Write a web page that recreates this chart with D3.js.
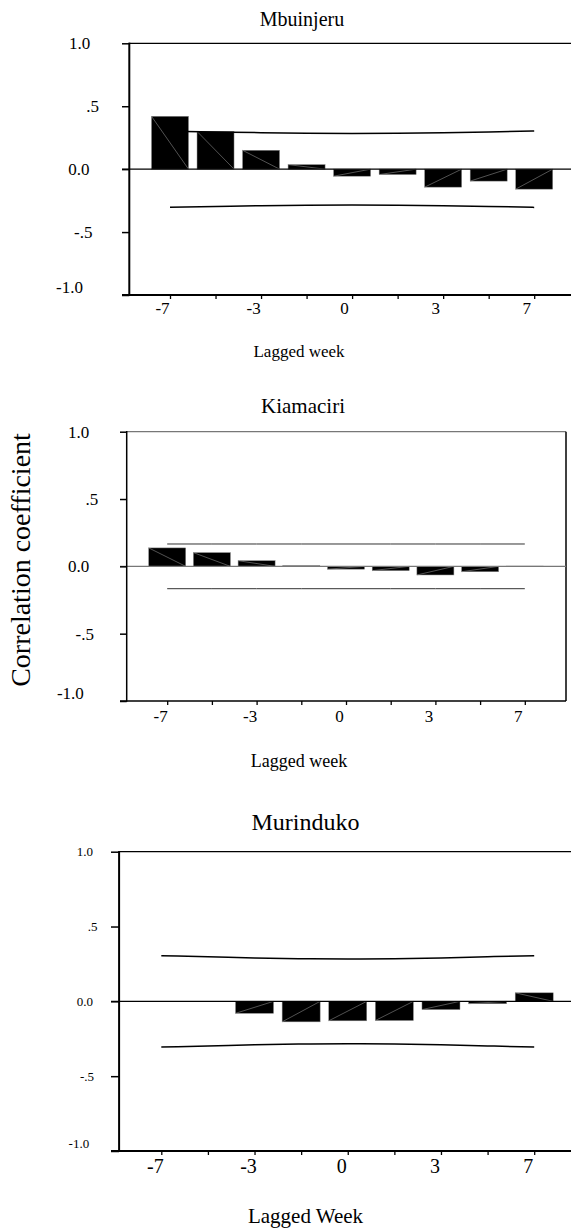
<!DOCTYPE html>
<html>
<head>
<meta charset="utf-8">
<script src="https://cdn.jsdelivr.net/npm/d3@7"></script>
<style>
  body { margin: 0; background: #fff; }
  svg, svg text { font-family: 'Liberation Serif', 'Times New Roman', Times, serif !important; }
</style>
</head>
<body>
<script>
// lag positions (9 bars), only every second one is labelled
var lagIndex   = [0, 1, 2, 3, 4, 5, 6, 7, 8];
var lagLabels  = ["-7", "", "-3", "", "0", "", "3", "", "7"];
var yTicks     = [1, 0.5, 0, -0.5, -1];
var yTickText  = ["1.0", ".5", "0.0", "-.5", "-1.0"];

var titles  = ["Mbuinjeru", "Kiamaciri", "Murinduko"];
var xTitles = ["Lagged week", "Lagged week", "Lagged Week"];
var yTitle  = "Correlation coefficient";

// cross correlation coefficients
var mbuinjeruValues = [0.42, 0.30, 0.15, 0.036, -0.056, -0.043, -0.143, -0.095, -0.159];
var kiamaciriValues = [0.137, 0.102, 0.042, 0.005, -0.021, -0.032, -0.064, -0.04, 0.002];
var murindukoValues = [0, 0, -0.08, -0.137, -0.13, -0.128, -0.055, -0.016, 0.057];

// confidence limits (upper; lower is the mirror)
var mbuinjeruLimits = [0.302, 0.296, 0.29, 0.286, 0.284, 0.286, 0.29, 0.296, 0.304];
var kiamaciriLimits = [0.166, 0.166, 0.166, 0.166, 0.166, 0.166, 0.166, 0.166, 0.166];
var murindukoLimits = [0.305, 0.298, 0.29, 0.285, 0.283, 0.285, 0.29, 0.298, 0.305];

var W = 571, H = 1228;
var FONT = "'Liberation Serif', 'Times New Roman', serif";
var svg = d3.select("body").append("svg").attr("width", W).attr("height", H)
  .attr("font-family", FONT);

var panels = [
  {title: titles[0], xTitle: xTitles[0], values: mbuinjeruValues, limits: mbuinjeruLimits,
   top: 43.3, bottom: 295, axisX: 129.3, tickLeft: 122, first: 170, last: 534.2, right: 580, boxed: false,
   barW: 37, titleX: 302, titleY: 26, titleSize: 20, xTitleX: 299, xTitleY: 357, xTitleSize: 17,
   yLabSize: 17, xLabSize: 17, xLabY: 18.5, xLabDx: -8,
   yLabDx: [-39, -30.3, -39.7, -36.8, -46.3], yLabDy: [0, 0, 0, 0, -8.3],
   frameColor: "#000", zeroColor: "#000", limColor: "#000", limW: 1.5, axisW: 2},
  {title: titles[1], xTitle: xTitles[1], values: kiamaciriValues, limits: kiamaciriLimits,
   top: 431.7, bottom: 701, axisX: 126.7, tickLeft: 120, first: 167.2, last: 524.8, right: 566, boxed: true,
   barW: 37, titleX: 303, titleY: 413, titleSize: 21, xTitleX: 299, xTitleY: 767, xTitleSize: 18,
   yLabSize: 17, xLabSize: 17, xLabY: 21, xLabDx: -7,
   yLabDx: [-37.5, -28.4, -37.5, -32.7, -42.9], yLabDy: [0, 0, 0, 0, -7.7],
   frameColor: "#777", zeroColor: "#777", limColor: "#333", limW: 1, axisW: 1.5},
  {title: titles[2], xTitle: xTitles[2], values: murindukoValues, limits: murindukoLimits,
   top: 851.7, bottom: 1151, axisX: 119.1, tickLeft: 111, first: 161.3, last: 534.2, right: 580, boxed: false,
   barW: 38, titleX: 305.5, titleY: 830, titleSize: 24, xTitleX: 305.5, xTitleY: 1223, xTitleSize: 21,
   yLabSize: 13, xLabSize: 20, xLabY: 22, xLabDx: -6.5,
   yLabDx: [-26.2, -21.5, -26.2, -25.1, -29.9], yLabDy: [-0.7, 0, 0, 0, -7.7],
   frameColor: "#000", zeroColor: "#000", limColor: "#000", limW: 1.5, axisW: 2}
];

panels.forEach(drawPanel);

function drawPanel(p) {
  var g = svg.append("g");

  var x = d3.scalePoint().domain(lagIndex).range([p.first, p.last]);
  var y = d3.scaleLinear().domain([-1, 1]).range([p.bottom, p.top]);

  // frame
  g.append("line").attr("x1", p.axisX).attr("x2", p.right).attr("y1", y(1)).attr("y2", y(1))
    .attr("stroke", p.frameColor).attr("stroke-width", 1.3);
  if (p.boxed) {
    g.append("line").attr("x1", p.right).attr("x2", p.right).attr("y1", y(1)).attr("y2", y(-1))
      .attr("stroke", "#000").attr("stroke-width", 1.5);
  }

  // bars
  var bars = g.selectAll(".bar").data(p.values).join("g").attr("class", "bar");
  bars.append("rect")
    .attr("x", function(d, i) { return x(i) - p.barW / 2; })
    .attr("y", function(d) { return y(Math.max(d, 0)); })
    .attr("width", p.barW)
    .attr("height", function(d) { return Math.abs(y(d) - y(0)); })
    .attr("fill", "#000")
    .attr("stroke", "#888").attr("stroke-width", 0.5);
  bars.append("line")
    .attr("x1", function(d, i) { return x(i) - p.barW / 2; })
    .attr("x2", function(d, i) { return x(i) + p.barW / 2; })
    .attr("y1", function(d) { return y(d); })
    .attr("y2", y(0))
    .attr("stroke", "#8a8a8a").attr("stroke-width", 0.6)
    .attr("display", function(d) { return Math.abs(d) > 0.01 ? null : "none"; });

  // zero line
  g.append("line").attr("x1", p.tickLeft).attr("x2", p.right).attr("y1", y(0)).attr("y2", y(0))
    .attr("stroke", p.zeroColor).attr("stroke-width", 1.2);

  // confidence limits
  var lim = d3.line().x(function(d, i) { return x(i); }).curve(d3.curveMonotoneX);
  [1, -1].forEach(function(s) {
    g.append("path")
      .attr("d", lim.y(function(d) { return y(s * d); })(p.limits))
      .attr("fill", "none").attr("stroke", p.limColor).attr("stroke-width", p.limW);
  });

  // y axis
  var yAxis = g.append("g").attr("transform", "translate(" + p.axisX + ",0)")
    .call(d3.axisLeft(y).tickValues(yTicks).tickSize(p.axisX - p.tickLeft).tickPadding(0)
      .tickFormat(function(d, i) { return yTickText[i]; }));
  yAxis.attr("font-family", FONT).attr("font-size", p.yLabSize);
  yAxis.select(".domain").remove();
  yAxis.selectAll(".tick line").attr("stroke", "#000").attr("stroke-width", 1.5);
  yAxis.selectAll(".tick text")
    .attr("x", function(d, i) { return p.yLabDx[i]; })
    .attr("dy", function(d, i) { return (p.yLabDy[i] + p.yLabSize * 0.33) + "px"; })
    .attr("fill", "#000");
  g.append("line").attr("x1", p.axisX).attr("x2", p.axisX).attr("y1", y(1) - 0.7).attr("y2", y(-1) + 0.7)
    .attr("stroke", "#000").attr("stroke-width", p.axisW);

  // x axis
  var xAxis = g.append("g").attr("transform", "translate(0," + p.bottom + ")")
    .call(d3.axisBottom(x).tickSize(4).tickPadding(0)
      .tickFormat(function(d) { return lagLabels[d]; }));
  xAxis.attr("font-family", FONT).attr("font-size", p.xLabSize);
  xAxis.select(".domain").remove();
  xAxis.selectAll(".tick line").attr("stroke", "#000").attr("stroke-width", 1.3);
  xAxis.selectAll(".tick text")
    .attr("y", p.xLabY).attr("dy", 0).attr("dx", p.xLabDx)
    .attr("fill", "#000");
  g.append("line").attr("x1", p.tickLeft).attr("x2", p.right).attr("y1", p.bottom).attr("y2", p.bottom)
    .attr("stroke", "#000").attr("stroke-width", p.axisW);

  // titles
  g.append("text").attr("x", p.titleX).attr("y", p.titleY).attr("text-anchor", "middle")
    .attr("font-size", p.titleSize).text(p.title);
  g.append("text").attr("x", p.xTitleX).attr("y", p.xTitleY).attr("text-anchor", "middle")
    .attr("font-size", p.xTitleSize).text(p.xTitle);
}

svg.append("text")
  .attr("transform", "translate(30,560) rotate(-90)")
  .attr("text-anchor", "middle")
  .attr("font-size", 28)
  .text(yTitle);
</script>
</body>
</html>
